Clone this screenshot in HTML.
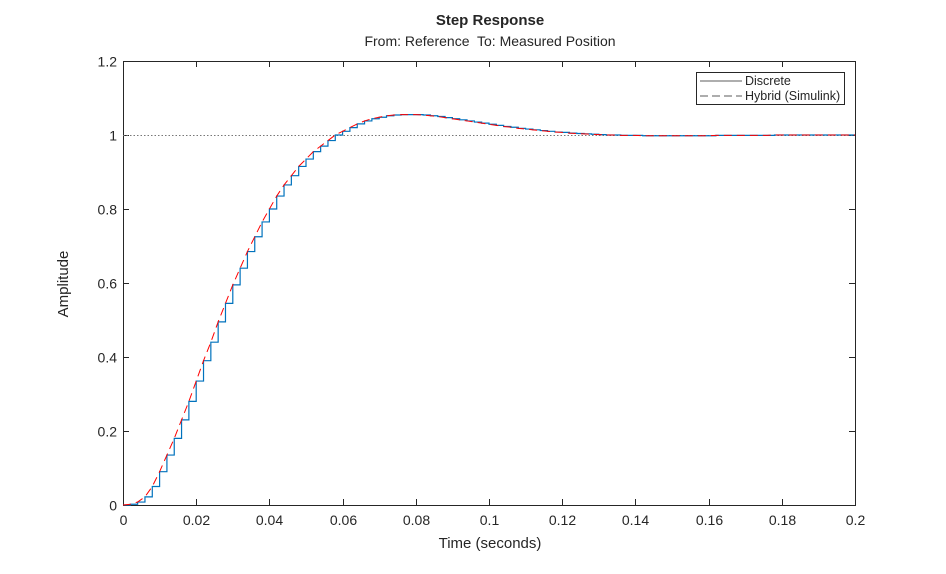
<!DOCTYPE html>
<html><head><meta charset="utf-8"><style>
body{margin:0;background:#fff;width:946px;height:569px;overflow:hidden;font-family:"Liberation Sans",sans-serif}
</style></head><body>
<svg id="chart" width="946" height="569" xmlns="http://www.w3.org/2000/svg" font-family="Liberation Sans, sans-serif">
<rect x="0" y="0" width="946" height="569" fill="#fff"/>
<text x="490" y="25" text-anchor="middle" font-size="15" font-weight="bold" fill="#262626">Step Response</text>
<text x="490" y="46" text-anchor="middle" font-size="14" fill="#262626">From: Reference&#160; To: Measured Position</text>
<text x="490" y="548" text-anchor="middle" font-size="15" fill="#262626">Time (seconds)</text>
<text x="68" y="284" text-anchor="middle" font-size="15" fill="#262626" transform="rotate(-90 68 284)">Amplitude</text>
<g id="axes"></g>
<g id="series"></g>
<g>
<rect x="696.5" y="72.5" width="148" height="32" fill="#fff" stroke="#262626" stroke-width="1"/>
<line x1="700" y1="81" x2="742" y2="81" stroke="#262626" stroke-width="0.8"/>
<text x="745" y="85" font-size="12.5" fill="#262626">Discrete</text>
<line x1="700" y1="96" x2="742" y2="96" stroke="#262626" stroke-width="0.8" stroke-dasharray="8 4"/>
<text x="745" y="100" font-size="12.5" fill="#262626">Hybrid (Simulink)</text>
</g>
</svg>
<script>
const sampleTime = 0.002;
const discreteValues = [0,0.002,0.008,0.022,0.05,0.09,0.135,0.18,0.23,0.28,0.335,0.39,0.44,0.495,0.545,0.595,0.64,0.685,0.725,0.765,0.80,0.835,0.865,0.89,0.915,0.935,0.955,0.97,0.985,1.0,1.01,1.02,1.03,1.038,1.044,1.048,1.052,1.054,1.055,1.055,1.055,1.054,1.052,1.05,1.047,1.044,1.041,1.038,1.035,1.032,1.029,1.026,1.023,1.021,1.018,1.016,1.014,1.012,1.01,1.008,1.007,1.005,1.004,1.003,1.002,1.001,1.0,1.0,0.999,0.999,0.999,0.998,0.998,0.998,0.998,0.998,0.998,0.998,0.998,0.998,0.998,0.999,0.999,0.999,0.999,0.999,0.999,0.999,0.999,1.0,1.0,1.0,1.0,1.0,1.0,1.0,1.0,1.0,1.0,1.0,1.0];
const hybridValues = discreteValues.slice();
const xTicks = [0,0.02,0.04,0.06,0.08,0.1,0.12,0.14,0.16,0.18,0.2];
const xTickLabels = ["0","0.02","0.04","0.06","0.08","0.1","0.12","0.14","0.16","0.18","0.2"];
const yTicks = [0,0.2,0.4,0.6,0.8,1,1.2];
const yTickLabels = ["0","0.2","0.4","0.6","0.8","1","1.2"];
const X0=123,X1=855,Y0=505,Y1=61;
const xs=t=>X0+(t-0)/0.2*(X1-X0);
const ys=v=>Y0-(v/1.2)*(Y0-Y1);
const NS="http://www.w3.org/2000/svg";
function mk(tag,attrs,parent){const e=document.createElementNS(NS,tag);for(const k in attrs)e.setAttribute(k,attrs[k]);parent.appendChild(e);return e;}
const axes=document.getElementById('axes');
const box=mk('rect',{x:X0+0.5,y:Y1+0.5,width:X1-X0,height:Y0-Y1,fill:'none',stroke:'#262626','stroke-width':1},axes);


xTicks.forEach((t,i)=>{const x=Math.round(xs(t))+0.5;
 mk('line',{x1:x,y1:Y0,x2:x,y2:Y0-6,stroke:'#262626'},axes);
 mk('line',{x1:x,y1:Y1,x2:x,y2:Y1+6,stroke:'#262626'},axes);
 const tx=mk('text',{x:x,y:Y0+20,'text-anchor':'middle','font-size':14,fill:'#262626'},axes);tx.textContent=xTickLabels[i];
 
 });
yTicks.forEach((v,i)=>{const y=Math.round(ys(v))+0.5;
 mk('line',{x1:X0,y1:y,x2:X0+6,y2:y,stroke:'#262626'},axes);
 mk('line',{x1:X1,y1:y,x2:X1-6,y2:y,stroke:'#262626'},axes);
 const tx=mk('text',{x:X0-6,y:y+5,'text-anchor':'end','font-size':14,fill:'#262626'},axes);tx.textContent=yTickLabels[i];
 
 });
const ref=mk('line',{x1:X0,y1:ys(1)+0.5,x2:X1,y2:ys(1)+0.5,stroke:'#777','stroke-width':1,'stroke-dasharray':'1.5 2'},axes);


const ser=document.getElementById('series');
let d='';
discreteValues.forEach((v,i)=>{const x=xs(i*sampleTime),y=ys(v);
 if(i===0)d+=`M${x},${y}`;else d+=`V${y}`;
 const xn=xs(Math.min((i+1)*sampleTime,0.2));d+=`H${xn}`;});
const dl=mk('path',{d:d,fill:'none',stroke:'#0072BD','stroke-width':1.2},ser);


const hd=hybridValues.map((v,i)=>(i?'L':'M')+xs(i*sampleTime)+','+ys(v)).join('');
const hl=mk('path',{d:hd,fill:'none',stroke:'#ff0000','stroke-width':1,'stroke-dasharray':'8 5'},ser);


</script>
</body></html>
